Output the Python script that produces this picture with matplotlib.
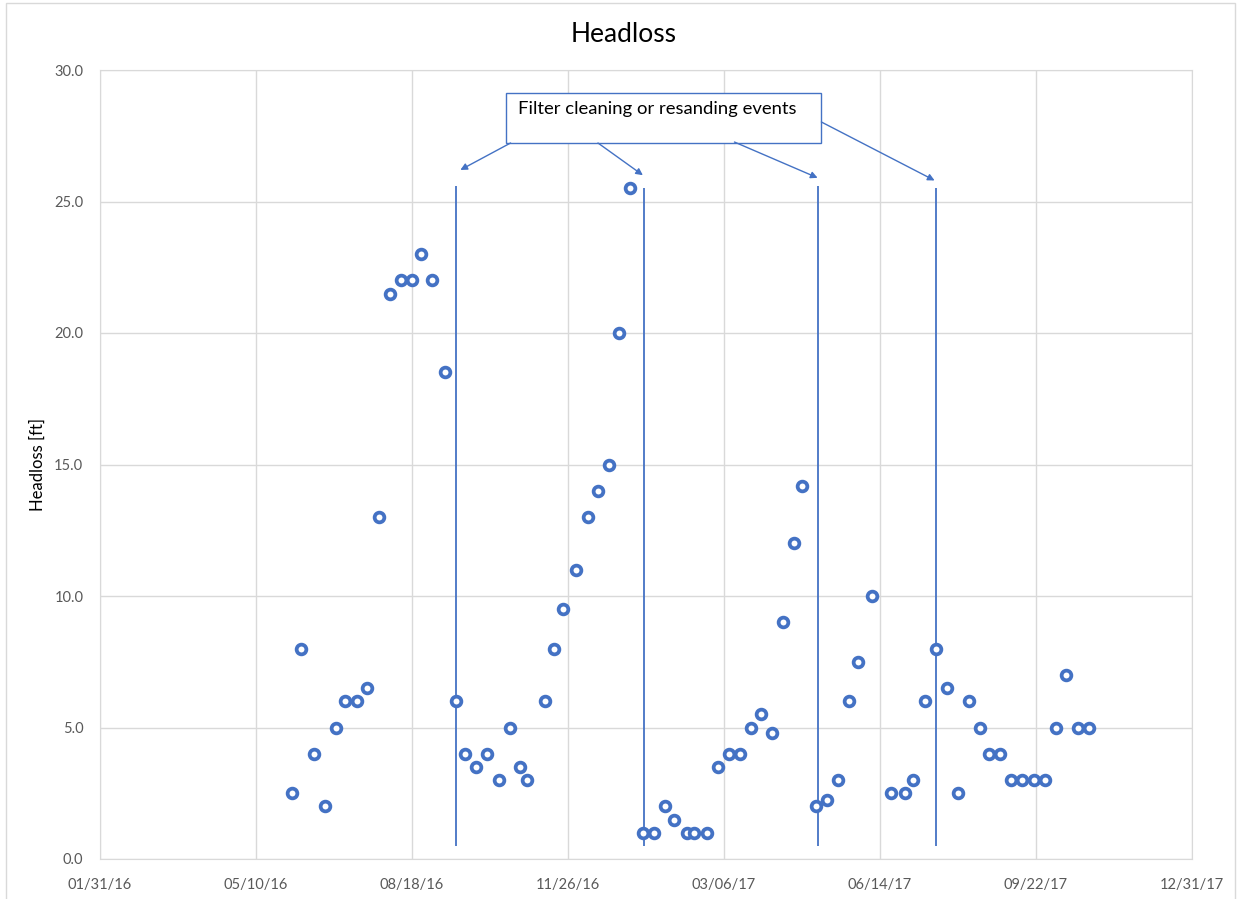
import matplotlib
matplotlib.use("Agg")
import matplotlib.pyplot as plt
import matplotlib.dates as mdates
import numpy as np
import pandas as pd
from matplotlib.patches import Rectangle

plt.rcParams['font.family'] = ['Lato', 'DejaVu Sans']

dates = ['2016-06-02', '2016-06-08', '2016-06-16', '2016-06-23', '2016-06-30',
         '2016-07-06', '2016-07-14', '2016-07-20', '2016-07-28', '2016-08-04',
         '2016-08-11', '2016-08-18', '2016-08-24', '2016-08-31', '2016-09-08',
         '2016-09-15', '2016-09-21', '2016-09-28', '2016-10-05', '2016-10-13',
         '2016-10-20', '2016-10-26', '2016-10-31', '2016-11-11', '2016-11-17',
         '2016-11-23', '2016-12-01', '2016-12-09', '2016-12-15', '2016-12-22',
         '2016-12-29', '2017-01-05', '2017-01-13', '2017-01-20', '2017-01-27',
         '2017-02-02', '2017-02-10', '2017-02-15', '2017-02-23', '2017-03-02',
         '2017-03-09', '2017-03-16', '2017-03-23', '2017-03-30', '2017-04-06',
         '2017-04-13', '2017-04-20', '2017-04-25', '2017-05-04', '2017-05-11',
         '2017-05-18', '2017-05-25', '2017-05-31', '2017-06-09', '2017-06-21',
         '2017-06-30', '2017-07-05', '2017-07-13', '2017-07-20', '2017-07-27',
         '2017-08-03', '2017-08-10', '2017-08-17', '2017-08-23', '2017-08-30',
         '2017-09-06', '2017-09-13', '2017-09-21', '2017-09-28', '2017-10-05',
         '2017-10-11', '2017-10-19', '2017-10-26']
headloss = [2.5, 8, 4, 2, 5, 6, 6, 6.5, 13, 21.5, 22, 22, 23, 22, 18.5,
            6, 4, 3.5, 4, 3, 5, 3.5, 3, 6, 8, 9.5, 11, 13, 14, 15, 20, 25.5,
            1, 1, 2, 1.5, 1, 1, 1, 3.5, 4, 4, 5, 5.5, 4.8, 9, 12, 14.2,
            2, 2.25, 3, 6, 7.5, 10, 2.5, 2.5, 3, 6, 8, 6.5, 2.5, 6, 5,
            4, 4, 3, 3, 3, 3, 5, 7, 5, 5]

events = ['2016-09-15', '2017-01-14', '2017-05-05', '2017-07-20']
event_top = [25.6, 25.5, 25.6, 25.5]
event_bottom = 0.5

tick_dates = ['2016-01-31', '2016-05-10', '2016-08-18', '2016-11-26',
              '2017-03-06', '2017-06-14', '2017-09-22', '2017-12-31']
y_ticks = [0, 5, 10, 15, 20, 25, 30]

blue = '#4472C4'
grid = '#d9d9d9'
txt = '#595959'

x = pd.to_datetime(dates)
ev = pd.to_datetime(events)
xt = pd.to_datetime(tick_dates)

fig = plt.figure(figsize=(12.43, 8.99), dpi=100)
ax = fig.add_axes([100/1243, 40/899, 1092/1243, 789/899])

# outer chart border
fig.patches.append(Rectangle((6/1243, -0.01), 1229/1243, 1.0 - 3/899 + 0.01,
                             transform=fig.transFigure, fill=False,
                             edgecolor='#d9d9d9', linewidth=1))

ax.set_xlim(xt[0], xt[-1])
ax.set_ylim(0, 30)
ax.set_xticks(xt)
ax.xaxis.set_major_formatter(mdates.DateFormatter('%m/%d/%y'))
ax.set_yticks(y_ticks)
ax.set_yticklabels(['%.1f' % v for v in y_ticks])
ax.grid(True, color=grid, linewidth=1)
ax.set_axisbelow(True)
for s in ax.spines.values():
    s.set_color(grid)
ax.tick_params(length=0, colors=txt, labelsize=10.5)
ax.tick_params(axis='x', pad=14)
ax.tick_params(axis='y', pad=12)

ax.vlines(ev, event_bottom, event_top, color=blue, linewidth=1.3, zorder=2)

ax.plot(x, headloss, linestyle='none', marker='o', markersize=7,
        markerfacecolor='white', markeredgecolor=blue, markeredgewidth=2.7,
        zorder=3)

fig.text(624/1243, 1 - 34/899, 'Headloss', fontsize=19, color='black',
         ha='center', va='center')
ax.set_ylabel('Headloss [ft]', fontsize=12, color='black', labelpad=6)

# callout box
ax.add_patch(Rectangle((0.3716, 0.9075), 0.289, 0.0634, transform=ax.transAxes,
                       facecolor='white', edgecolor=blue, linewidth=1, zorder=4))
ax.text(0.3826, 0.950, 'Filter cleaning or resanding events', transform=ax.transAxes,
        fontsize=13.3, va='center', ha='left', color='black', zorder=5)

tails = [(0.376, 0.9075), (0.456, 0.9075), (0.581, 0.9087), (0.6606, 0.9341)]
head_x = pd.to_datetime(['2016-09-18', '2017-01-13', '2017-05-05', '2017-07-19'])
head_y = [26.2, 26.0, 25.9, 25.8]
for (tx, ty), hx, hy in zip(tails, head_x, head_y):
    ax.annotate('', xy=(mdates.date2num(hx), hy), xycoords='data',
                xytext=(tx, ty), textcoords='axes fraction',
                arrowprops=dict(arrowstyle='-|>', color=blue, lw=1,
                                mutation_scale=10, shrinkA=0, shrinkB=0),
                zorder=4)

fig.savefig('out.png', dpi=100)
